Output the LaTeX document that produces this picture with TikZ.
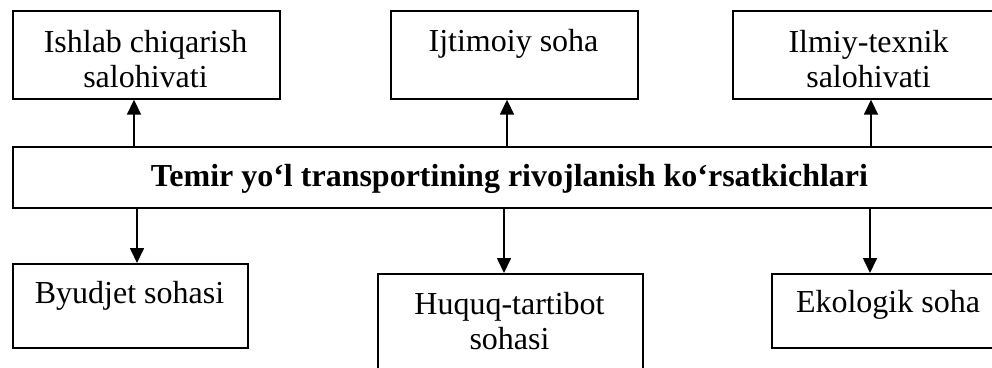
\documentclass[tikz,border=0pt]{standalone}
\usepackage{fontspec}
\setmainfont{Liberation Serif}
\usetikzlibrary{arrows.meta}
\begin{document}
\begin{tikzpicture}[x=1pt,y=-1pt,
  frame/.style={draw, line width=1.7pt, anchor=north west, inner sep=0pt},
  lbl/.style={anchor=base, align=center, inner sep=0pt,
              font=\fontsize{32}{35}\selectfont},
  arr/.style={line width=1.7pt, -{Triangle[length=15pt,width=14pt]}}]
  \useasboundingbox (0,0) rectangle (992,367);
  \clip (0,0) rectangle (992,367);

  % central box
  \node[frame, minimum width=995pt, minimum height=61pt] (main) at (12,146) {};
  \node[lbl, font=\fontsize{32}{35}\selectfont\bfseries] (mt) at (509.5,186)
    {Temir yo‘l transportining rivojlanish ko‘rsatkichlari};

  % upper row (base anchor of a two-line label sits on its last line)
  \node[frame, minimum width=267pt, minimum height=88pt] (b1) at (12,10) {};
  \node[lbl] (t1) at (145.5,87) {Ishlab chiqarish\\salohivati};
  \node[frame, minimum width=247pt, minimum height=88pt] (b2) at (390,10) {};
  \node[lbl] (t2) at (513.5,51) {Ijtimoiy soha};
  \node[frame, minimum width=273pt, minimum height=88pt] (b3) at (732,10) {};
  \node[lbl] (t3) at (868.5,87) {Ilmiy-texnik\\salohivati};

  % lower row
  \node[frame, minimum width=235pt, minimum height=84pt] (b4) at (12,263) {};
  \node[lbl] (t4) at (129.5,303) {Byudjet sohasi};
  \node[frame, minimum width=265pt, minimum height=110pt] (b5) at (377,273) {};
  \node[lbl] (t5) at (509.5,349) {Huquq-tartibot\\sohasi};
  \node[frame, minimum width=234pt, minimum height=74pt] (b6) at (771,273) {};
  \node[lbl] (t6) at (888,312) {Ekologik soha};

  % connectors
  \draw[arr] (main.north -| 134,0) -- (b1.south -| 134,0);
  \draw[arr] (main.north -| 507,0) -- (b2.south -| 507,0);
  \draw[arr] (main.north -| 871,0) -- (b3.south -| 871,0);
  \draw[arr] (main.south -| 137,0) -- (b4.north -| 137,0);
  \draw[arr] (main.south -| 504,0) -- (b5.north -| 504,0);
  \draw[arr] (main.south -| 870,0) -- (b6.north -| 870,0);
\end{tikzpicture}
\end{document}
